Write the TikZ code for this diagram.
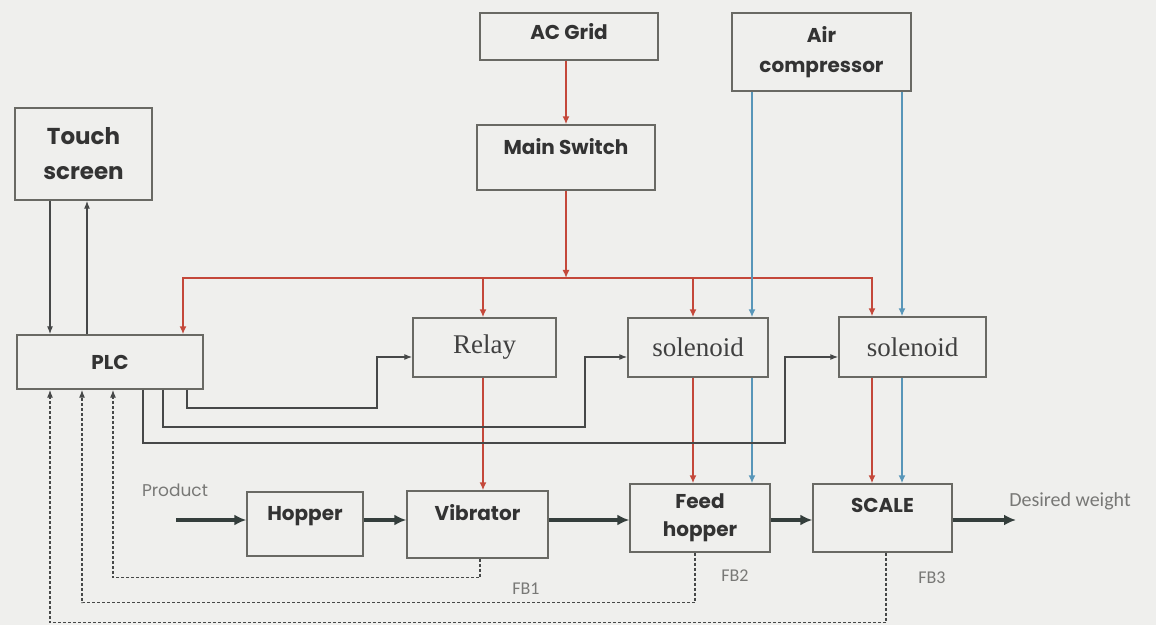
\documentclass[tikz,border=0pt]{standalone}
\usepackage{fontspec}
\setsansfont{Poppins}
\setmainfont{Liberation Serif}
\newfontfamily\lblfont{Carlito}
\usepackage{xcolor}
\usetikzlibrary{arrows.meta, positioning}

\definecolor{bgc}{RGB}{239,239,237}
\definecolor{pwrred}{RGB}{196,72,58}
\definecolor{airblue}{RGB}{88,150,185}
\definecolor{wire}{RGB}{70,72,72}
\definecolor{frame}{RGB}{105,105,100}
\definecolor{flowc}{RGB}{52,62,60}
\definecolor{lbl}{RGB}{120,120,118}

\begin{document}
\begin{tikzpicture}[
    x=0.5pt, y=-0.5pt,
    blk/.style={draw=frame, line width=0.7pt, inner sep=0pt, align=center, text=black!80,
        font=\sffamily\bfseries\fontsize{10}{14}\selectfont},
    dev/.style={draw=frame, line width=0.7pt, inner sep=0pt, text=black!75,
        font=\fontsize{13.5}{16}\selectfont},
    lift/.style={text height=7pt, text depth=#1},
    pwr/.style={draw=pwrred, line width=1pt, -{Latex[length=4pt,width=3.5pt]}},
    air/.style={draw=airblue, line width=1pt, -{Latex[length=4pt,width=3.5pt]}},
    ctl/.style={draw=wire, line width=0.6pt, -{Latex[length=4pt,width=3pt]}},
    fb/.style={draw=wire, line width=0.6pt, dash pattern=on 1.5pt off 1pt, -{Latex[length=4pt,width=3pt]}},
    flow/.style={draw=flowc, line width=1.6pt, -{Latex[length=6pt,width=5.5pt]}},
    note/.style={text=lbl, font=\lblfont\fontsize{9}{11}\selectfont}
]
    \fill[bgc] (0,0) rectangle (1156,625);

    % blocks
    \node[blk, minimum width=68.5pt, minimum height=46pt,
          font=\sffamily\bfseries\fontsize{11.5}{17.5}\selectfont] (touch) at (83.5,154) {Touch\\screen};
    \node[blk, minimum width=93pt, minimum height=27pt]                  (plc)     at (110,362)   {PLC};
    \node[blk, minimum width=89pt, minimum height=23.5pt, lift=3.5pt]    (acgrid)  at (569,36.5)  {AC Grid};
    \node[blk, minimum width=89pt, minimum height=32.5pt, lift=9.5pt]    (mainsw)  at (566,157.5) {Main Switch};
    \node[blk, minimum width=89.5pt, minimum height=39pt,
          font=\sffamily\bfseries\fontsize{10}{15}\selectfont]            (aircomp) at (821.5,52)  {Air\\compressor};
    \node[dev, minimum width=71.5pt, minimum height=29.5pt]              (relay)   at (484.5,347.5) {Relay};
    \node[dev, minimum width=70pt, minimum height=29.5pt]                (sol1)    at (698,347.5)  {solenoid};
    \node[dev, minimum width=73.5pt, minimum height=30pt]                (sol2)    at (912.5,347)  {solenoid};
    \node[blk, minimum width=58pt, minimum height=32pt, lift=11pt]       (hopper)  at (305,524)   {Hopper};
    \node[blk, minimum width=70.5pt, minimum height=33.5pt, lift=11.5pt] (vib)     at (477.5,524.5) {Vibrator};
    \node[blk, minimum width=70pt, minimum height=34pt]                  (feed)    at (700,518)   {Feed\\hopper};
    \node[blk, minimum width=69.5pt, minimum height=34pt, lift=13pt]     (scale)   at (882.5,518) {SCALE};

    % line columns and rows
    \coordinate (bus)   at (0,278);
    \coordinate (cPlc)  at (183,0);
    \coordinate (cRel)  at (483,0);
    \coordinate (cS1)   at (693,0);
    \coordinate (cS2)   at (872,0);
    \coordinate (cA1)   at (752,0);
    \coordinate (cA2)   at (902,0);
    \coordinate (flowY) at (0,520);
    \coordinate (inY)   at (0,357);

    % power
    \draw[pwr] (mainsw.north |- acgrid.south) -- (mainsw.north);
    \draw[pwr] (mainsw.south) -- (mainsw.south |- bus);
    \draw[pwr] (mainsw.south |- bus) -| (cPlc |- plc.north);
    \draw[pwr] (mainsw.south |- bus) -| (cS2 |- sol2.north);
    \draw[pwr] (cRel |- bus) -- (cRel |- relay.north);
    \draw[pwr] (cS1 |- bus) -- (cS1 |- sol1.north);
    \foreach \c/\a/\b in {cRel/relay/vib, cS1/sol1/feed, cS2/sol2/scale}
        \draw[pwr] (\c |- \a.south) -- (\c |- \b.north);

    % compressed air
    \foreach \c/\a/\b in {cA1/sol1/feed, cA2/sol2/scale}{
        \draw[air] (\c |- aircomp.south) -- (\c |- \a.north);
        \draw[air] (\c |- \a.south) -- (\c |- \b.north);
    }

    % touch screen <-> PLC
    \coordinate (tDn) at ([xshift=-16.75pt]touch.south);
    \coordinate (tUp) at ([xshift=1.75pt]touch.south);
    \draw[ctl] (tDn) -- (tDn |- plc.north);
    \draw[ctl] (tUp |- plc.north) -- (tUp);

    % PLC outputs
    \draw[ctl] ([xshift=38.5pt]plc.south) |- (377,408) |- (relay.west |- inY);
    \draw[ctl] ([xshift=26.5pt]plc.south) |- (585,427) |- (sol1.west |- inY);
    \draw[ctl] ([xshift=16.5pt]plc.south) |- (785,443) |- (sol2.west |- inY);

    % feedback
    \draw[fb] ([xshift=1.25pt]vib.south)  -- ++(0,19) -| ([xshift=1.5pt]plc.south);
    \draw[fb] ([xshift=-2.5pt]feed.south) -- ++(0,50) -| ([xshift=-14pt]plc.south);
    \draw[fb] ([xshift=1.75pt]scale.south) -- ++(0,70) -| ([xshift=-30pt]plc.south);
    \node[note] (fb1) at (526,589) {FB1};
    \node[note] (fb2) at (735,576) {FB2};
    \node[note] (fb3) at (932,578) {FB3};

    % product flow
    \coordinate (prodIn)  at (176,520);
    \coordinate (prodOut) at (1016,520);
    \draw[flow] (prodIn) -- (hopper.west |- flowY);
    \draw[flow] (hopper.east |- flowY) -- (vib.west |- flowY);
    \draw[flow] (vib.east |- flowY) -- (feed.west |- flowY);
    \draw[flow] (feed.east |- flowY) -- (scale.west |- flowY);
    \draw[flow] (scale.east |- flowY) -- (prodOut);
    \node[note, font=\sffamily\fontsize{8.5}{10}\selectfont] (product) at (175,490) {Product};
    \node[note, font=\lblfont\fontsize{10}{12}\selectfont]   (desired) at (1070,501) {Desired weight};
\end{tikzpicture}
\end{document}
